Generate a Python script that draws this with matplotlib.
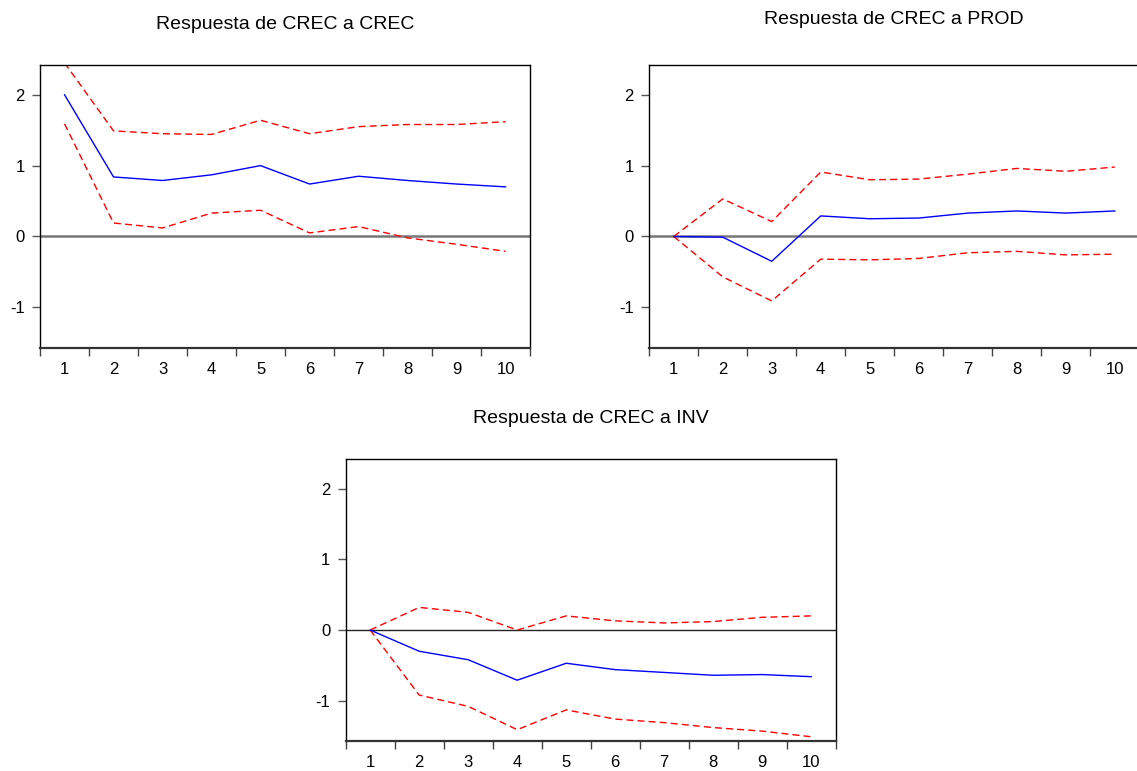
import matplotlib.pyplot as plt
import numpy as np

plt.rcParams['font.family'] = ['Liberation Sans', 'DejaVu Sans']

periods = list(range(1, 11))

# Respuesta de CREC a CREC
crec_resp = [2.00, 0.84, 0.79, 0.87, 1.00, 0.74, 0.85, 0.79, 0.74, 0.70]
crec_up = [2.45, 1.49, 1.45, 1.44, 1.64, 1.45, 1.55, 1.58, 1.58, 1.62]
crec_lo = [1.59, 0.19, 0.12, 0.33, 0.37, 0.05, 0.14, -0.02, -0.11, -0.21]

# Respuesta de CREC a PROD
prod_resp = [0.0, -0.01, -0.35, 0.29, 0.25, 0.26, 0.33, 0.36, 0.33, 0.36]
prod_up = [0.0, 0.53, 0.21, 0.91, 0.80, 0.81, 0.88, 0.96, 0.92, 0.98]
prod_lo = [0.0, -0.57, -0.91, -0.32, -0.33, -0.31, -0.23, -0.21, -0.26, -0.25]

# Respuesta de CREC a INV
inv_resp = [0.0, -0.30, -0.42, -0.71, -0.47, -0.56, -0.60, -0.64, -0.63, -0.66]
inv_up = [0.0, 0.32, 0.25, 0.00, 0.20, 0.13, 0.10, 0.12, 0.18, 0.20]
inv_lo = [0.0, -0.92, -1.08, -1.41, -1.13, -1.26, -1.31, -1.38, -1.43, -1.51]


def irf_panel(ax, resp, up, lo, title, zero_color, zero_lw, title_pad):
    ax.axhline(0, color=zero_color, lw=zero_lw, zorder=1)
    ax.plot(periods, resp, color='blue', lw=1.0, zorder=3)
    ax.plot(periods, up, color='red', lw=1.0, ls=(0, (5, 3)), zorder=2)
    ax.plot(periods, lo, color='red', lw=1.0, ls=(0, (5, 3)), zorder=2)
    ax.set_xlim(0.5, 10.5)
    ax.set_ylim(-1.57, 2.42)
    ax.set_yticks([-1, 0, 1, 2])
    ax.set_yticklabels(['-1', '0', '1', '2'])
    ax.set_xticks(periods)
    ax.set_xticklabels([str(p) for p in periods])
    ax.set_xticks(np.arange(0.5, 11, 1), minor=True)
    ax.tick_params(axis='x', which='major', length=0, pad=10, labelsize=12)
    ax.tick_params(axis='x', which='minor', length=6, width=1, color='#444444', direction='out')
    ax.tick_params(axis='y', length=6, width=1, color='#555555', pad=5, labelsize=12)
    for s in ['top', 'right', 'left']:
        ax.spines[s].set_linewidth(1.0)
        ax.spines[s].set_color('black')
    ax.spines['bottom'].set_linewidth(1.6)
    ax.spines['bottom'].set_color('#333333')
    ax.set_title(title, fontsize=14, pad=title_pad)


fig = plt.figure(figsize=(11.37, 7.71), dpi=100)
ax1 = fig.add_axes([0.0352, 0.549, 0.431, 0.3667])
ax2 = fig.add_axes([0.571, 0.549, 0.431, 0.3667])
ax3 = fig.add_axes([0.304, 0.0389, 0.431, 0.3658])

irf_panel(ax1, crec_resp, crec_up, crec_lo, 'Respuesta de CREC a CREC', '#777777', 1.8, 26)
irf_panel(ax2, prod_resp, prod_up, prod_lo, 'Respuesta de CREC a PROD', '#777777', 1.8, 29.5)
irf_panel(ax3, inv_resp, inv_up, inv_lo, 'Respuesta de CREC a INV', '#222222', 1.0, 26)

fig.savefig('out.png', dpi=100)
